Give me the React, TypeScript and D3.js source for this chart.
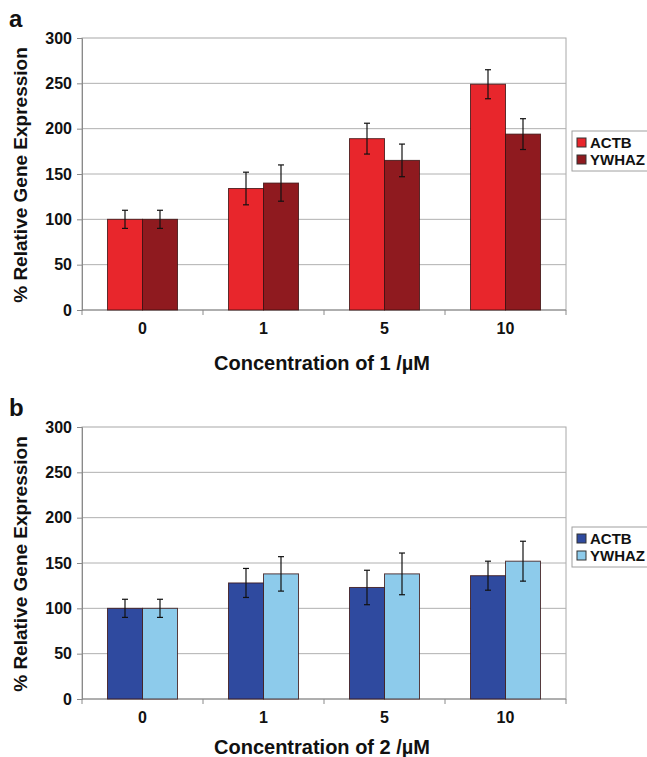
import React from 'react';
import * as d3 from 'd3';

const concentrations = ['0', '1', '5', '10'];
const genes = ['ACTB', 'YWHAZ'];
const yTicks = [0, 50, 100, 150, 200, 250, 300];

// panel a: compound 1
const actbA = [100, 134, 189, 249];
const actbErrA = [10, 18, 17, 16];
const ywhazA = [100, 140, 165, 194];
const ywhazErrA = [10, 20, 18, 17];

// panel b: compound 2
const actbB = [100, 128, 123, 136];
const actbErrB = [10, 16, 19, 16];
const ywhazB = [100, 138, 138, 152];
const ywhazErrB = [10, 19, 23, 22];

const redColors = ['#e8262c', '#8f1a1f'];
const blueColors = ['#2f4a9f', '#8dcbeb'];

const FONT = '"Liberation Sans", Arial, sans-serif';

function Panel({ top, label, title, titleY, values, errors, colors, legendTop }) {
	const ref = React.useRef(null);

	React.useEffect(() => {
		const g = d3.select(ref.current);
		g.selectAll('*').remove();

		const left = 82;
		const right = 566;
		const plotTop = 38;
		const plotBottom = 310;

		const x = d3.scaleBand().domain(concentrations).range([left, right]).padding(0);
		const group = 70;
		const x1 = d3
			.scaleBand()
			.domain(genes)
			.range([(x.bandwidth() - group) / 2, (x.bandwidth() + group) / 2]);
		const y = d3.scaleLinear().domain([0, 300]).range([plotBottom, plotTop]);

		// grid + frame
		g.append('rect')
			.attr('x', left)
			.attr('y', plotTop)
			.attr('width', right - left)
			.attr('height', plotBottom - plotTop)
			.attr('fill', '#fff')
			.attr('stroke', '#a8a8a8')
			.attr('stroke-width', 1);
		g.selectAll('.grid')
			.data(yTicks.filter((d) => d > 0 && d < 300))
			.join('line')
			.attr('x1', left)
			.attr('x2', right)
			.attr('y1', (d) => y(d))
			.attr('y2', (d) => y(d))
			.attr('stroke', '#b0b0b0')
			.attr('stroke-width', 1);

		// y axis
		const yAxis = g
			.append('g')
			.attr('transform', `translate(${left},0)`)
			.call(d3.axisLeft(y).tickValues(yTicks).tickSize(5).tickPadding(5));
		yAxis.select('.domain').attr('stroke', '#8a8a8a');
		yAxis.selectAll('.tick line').attr('stroke', '#8a8a8a');
		yAxis
			.selectAll('text')
			.attr('font-family', FONT)
			.attr('font-weight', 'bold')
			.attr('font-size', 16)
			.attr('fill', '#111');

		// x axis: ticks on band edges
		const xAxis = g.append('g').attr('transform', `translate(0,${plotBottom})`);
		xAxis
			.append('line')
			.attr('x1', left)
			.attr('x2', right)
			.attr('stroke', '#8a8a8a');
		xAxis
			.selectAll('.edge')
			.data(concentrations.map((c) => x(c)).concat([right]))
			.join('line')
			.attr('x1', (d) => d)
			.attr('x2', (d) => d)
			.attr('y1', 0)
			.attr('y2', 5)
			.attr('stroke', '#8a8a8a');
		xAxis
			.selectAll('.cat')
			.data(concentrations)
			.join('text')
			.attr('x', (d) => x(d) + x.bandwidth() / 2)
			.attr('y', 24)
			.attr('text-anchor', 'middle')
			.attr('font-family', FONT)
			.attr('font-weight', 'bold')
			.attr('font-size', 16)
			.attr('fill', '#111')
			.text((d) => d);

		// bars
		const rows = [];
		concentrations.forEach((c, i) => {
			genes.forEach((gene, j) => {
				rows.push({ c, gene, j, v: values[j][i], e: errors[j][i] });
			});
		});
		const bars = g
			.selectAll('.bar')
			.data(rows)
			.join('g')
			.attr('transform', (d) => `translate(${x(d.c) + x1(d.gene)},0)`);
		bars
			.append('rect')
			.attr('x', 0)
			.attr('y', (d) => y(d.v))
			.attr('width', x1.bandwidth())
			.attr('height', (d) => y(0) - y(d.v))
			.attr('fill', (d) => colors[d.j])
			.attr('stroke', '#3a1010')
			.attr('stroke-opacity', 0.8)
			.attr('stroke-width', 1);
		const cx = x1.bandwidth() / 2;
		bars
			.append('line')
			.attr('x1', cx)
			.attr('x2', cx)
			.attr('y1', (d) => y(d.v + d.e))
			.attr('y2', (d) => y(d.v - d.e))
			.attr('stroke', '#111')
			.attr('stroke-width', 1.2);
		bars
			.selectAll('.cap')
			.data((d) => [d.v + d.e, d.v - d.e])
			.join('line')
			.attr('x1', cx - 3)
			.attr('x2', cx + 3)
			.attr('y1', (d) => y(d))
			.attr('y2', (d) => y(d))
			.attr('stroke', '#111')
			.attr('stroke-width', 1.2);

		// titles
		g.append('text')
			.attr('transform', `translate(27,${(plotTop + plotBottom) / 2 + 1}) rotate(-90)`)
			.attr('text-anchor', 'middle')
			.attr('font-family', FONT)
			.attr('font-weight', 'bold')
			.attr('font-size', 19)
			.attr('fill', '#111')
			.text('% Relative Gene Expression');
		g.append('text')
			.attr('x', (left + right) / 2 - 2)
			.attr('y', titleY)
			.attr('text-anchor', 'middle')
			.attr('font-family', FONT)
			.attr('font-weight', 'bold')
			.attr('font-size', 20)
			.attr('fill', '#111')
			.text(title);
		g.append('text')
			.attr('x', 9)
			.attr('y', 27)
			.attr('font-family', FONT)
			.attr('font-weight', 'bold')
			.attr('font-size', 24)
			.attr('fill', '#111')
			.text(label);

		// legend
		const lg = g.append('g').attr('transform', `translate(572,${legendTop})`);
		lg.append('rect')
			.attr('width', 80)
			.attr('height', 40)
			.attr('fill', '#fff')
			.attr('stroke', '#a0a0a0');
		genes.forEach((gene, j) => {
			lg.append('rect')
				.attr('x', 5)
				.attr('y', 7 + j * 17)
				.attr('width', 9)
				.attr('height', 9)
				.attr('fill', colors[j])
				.attr('stroke', '#333');
			lg.append('text')
				.attr('x', 18)
				.attr('y', 16.5 + j * 17)
				.attr('font-family', FONT)
				.attr('font-weight', 'bold')
				.attr('font-size', 15)
				.attr('fill', '#111')
				.text(gene);
		});
	}, []);

	return <g ref={ref} transform={`translate(0,${top})`} />;
}

export default function App() {
	return (
		<svg
			width={647}
			height={757}
			style={{ position: 'absolute', left: 0, top: 0, background: '#fff' }}
		>
			<Panel
				top={0}
				label="a"
				title="Concentration of 1 /µM"
				titleY={370}
				values={[actbA, ywhazA]}
				errors={[actbErrA, ywhazErrA]}
				colors={redColors}
				legendTop={131}
			/>
			<Panel
				top={389}
				label="b"
				title="Concentration of 2 /µM"
				titleY={365}
				values={[actbB, ywhazB]}
				errors={[actbErrB, ywhazErrB]}
				colors={blueColors}
				legendTop={138}
			/>
		</svg>
	);
}
